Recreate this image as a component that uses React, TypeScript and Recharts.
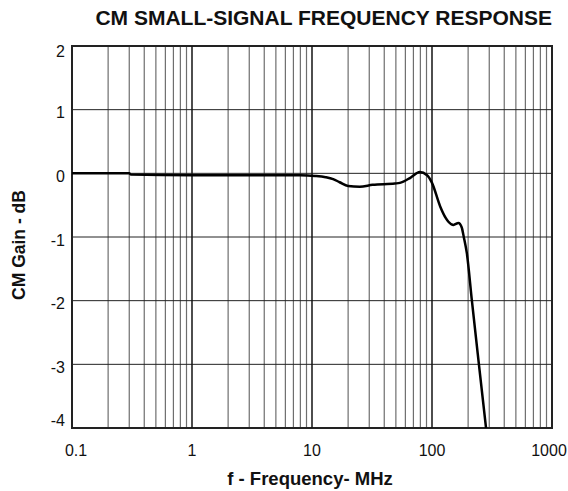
import { LineChart, Line, XAxis, YAxis, CartesianGrid, ReferenceLine, ReferenceArea } from 'recharts'

const freqMHz = [
  0.1, 0.3, 0.31, 1, 5, 8, 10.6, 13, 15, 17, 20, 25, 32, 49, 54, 66, 79, 91, 100, 117, 130, 137,
  151, 166, 177, 184, 195, 215, 246, 282,
]
const gainDb = [
  0, 0, -0.02, -0.03, -0.03, -0.03, -0.04, -0.06, -0.09, -0.14, -0.2, -0.21, -0.18, -0.16, -0.15,
  -0.07, 0.02, -0.03, -0.15, -0.52, -0.7, -0.76, -0.81, -0.78, -0.85, -1.0, -1.25, -2.0, -3.0, -4.0,
]

const xTicks = [
  0.1, 0.2, 0.3, 0.4, 0.5, 0.6, 0.7, 0.8, 0.9, 1, 2, 3, 4, 5, 6, 7, 8, 9, 10, 20, 30, 40, 50, 60,
  70, 80, 90, 100, 200, 300, 400, 500, 600, 700, 800, 900, 1000,
]
const decadeTicks = [0.1, 1, 10, 100, 1000]
const innerDecades = [1, 10, 100]
const yTicks = [-4, -3, -2, -1, 0, 1, 2]

const data = freqMHz.map((f, i) => ({ f, gain: gainDb[i] }))

const FONT = '"Liberation Sans", Arial, sans-serif'

function fmtFreq(v: number): string {
  return decadeTicks.includes(v) ? String(v) : ''
}

function YTick({ x, y, payload }: any) {
  // labels sit a bit under their lines; the bottom one is lifted clear of the x labels
  let shift = 3
  if (payload.value === -4) shift = -8
  if (payload.value === 2) shift = 5
  return (
    <text x={x} y={y + shift} dy="0.355em" textAnchor="end" fontSize={16} fill="#111" fontFamily={FONT}>
      {payload.value}
    </text>
  )
}

function XTick({ x, y, payload }: any) {
  const label = fmtFreq(payload.value)
  if (!label) return null
  const shift = payload.value === 0.1 ? 4 : payload.value === 1000 ? -3 : 0
  return (
    <text x={x + shift} y={y} dy="0.71em" textAnchor="middle" fontSize={16} fill="#111" fontFamily={FONT}>
      {label}
    </text>
  )
}

export default function App() {
  return (
    <div style={{ position: 'absolute', left: 0, top: 0, width: 568, height: 491, background: '#fff', fontFamily: FONT }}>
      <div
        style={{
          position: 'absolute', right: 16, top: 6, fontSize: 21, fontWeight: 'bold', color: '#111', whiteSpace: 'nowrap',
        }}
      >
        CM SMALL-SIGNAL FREQUENCY RESPONSE
      </div>
      <div
        style={{
          position: 'absolute', left: 19, top: 245, transform: 'translate(-50%, -50%) rotate(-90deg)',
          fontSize: 17.5, fontWeight: 'bold', color: '#111', whiteSpace: 'nowrap',
        }}
      >
        CM Gain - dB
      </div>
      <div
        style={{
          position: 'absolute', left: 310, top: 479, transform: 'translate(-50%, -50%)',
          fontSize: 18.5, fontWeight: 'bold', color: '#111', whiteSpace: 'nowrap',
        }}
      >
        f - Frequency- MHz
      </div>
      <LineChart width={568} height={491} data={data} margin={{ top: 46, right: 16, bottom: 0, left: 0 }}>
        <CartesianGrid horizontal={false} stroke="#6e6e6e" strokeWidth={1.2} />
        <CartesianGrid vertical={false} stroke="#222" strokeWidth={1} />
        {innerDecades.map((d) => (
          <ReferenceLine key={d} x={d} stroke="#111" strokeWidth={1.2} />
        ))}
        <XAxis
          dataKey="f"
          type="number"
          scale="log"
          domain={[0.1, 1000]}
          ticks={xTicks}
          interval={0}
          allowDataOverflow
          height={63}
          tickSize={0}
          tickMargin={17}
          axisLine={false}
          tick={<XTick />}
        />
        <YAxis
          type="number"
          domain={[-4, 2]}
          ticks={yTicks}
          interval={0}
          allowDataOverflow
          width={72}
          tickSize={0}
          tickMargin={7}
          axisLine={false}
          tick={<YTick />}
        />
        <Line
          type="monotone"
          dataKey="gain"
          stroke="#000"
          strokeWidth={2.5}
          dot={false}
          isAnimationActive={false}
        />
        <ReferenceArea x1={0.1} x2={1000} y1={-4} y2={2} fill="none" stroke="#222" strokeWidth={2} ifOverflow="visible" />
      </LineChart>
    </div>
  )
}
